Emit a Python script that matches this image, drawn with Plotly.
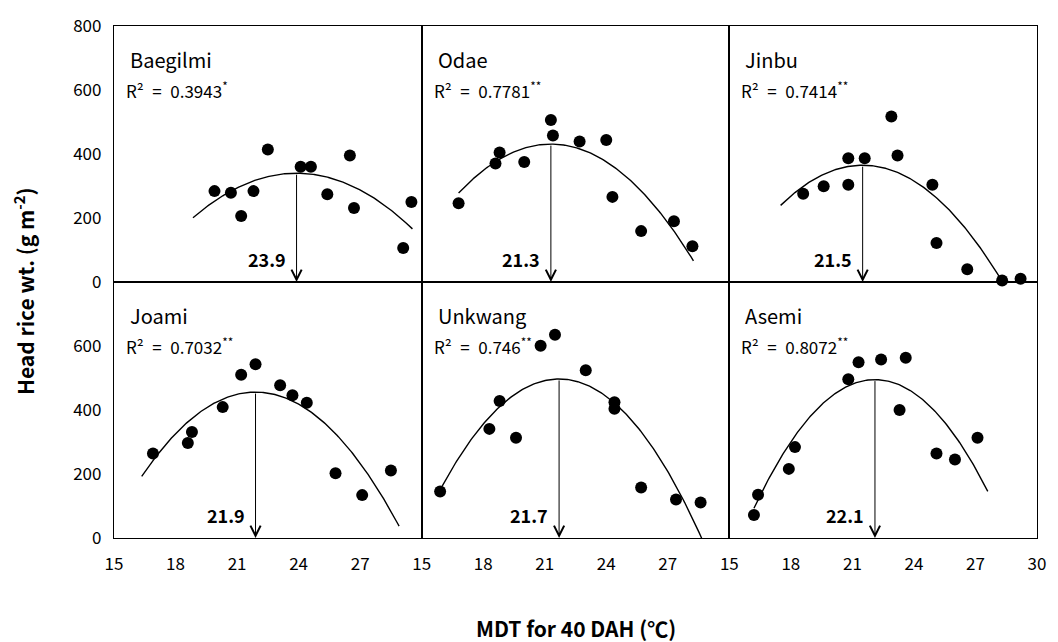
import numpy as np
import plotly.graph_objects as go
from plotly.subplots import make_subplots

FONT = "Noto Sans CJK KR"

# Cultivars, in panel order (row by row)
cultivars = ["Baegilmi", "Odae", "Jinbu", "Joami", "Unkwang", "Asemi"]
r2_values = ["0.3943", "0.7781", "0.7414", "0.7032", "0.746", "0.8072"]
significance = ["*", "**", "**", "**", "**", "**"]

# Mean daily temperature for 40 days after heading (°C) and head rice weight (g m-2)
mdt_baegilmi = [19.9, 20.7, 21.2, 21.8, 22.5, 24.1, 24.6, 25.4, 26.5, 26.7, 29.1, 29.5]
hrw_baegilmi = [284, 279, 206, 284, 414, 360, 360, 274, 395, 231, 106, 250]

mdt_odae = [16.8, 18.6, 18.8, 20.0, 21.3, 21.4, 22.7, 24.0, 24.3, 25.7, 27.3, 28.2]
hrw_odae = [246, 370, 405, 375, 506, 458, 439, 444, 266, 159, 190, 112]

mdt_jinbu = [18.6, 19.6, 20.8, 20.8, 21.6, 22.9, 23.2, 24.9, 25.1, 26.6, 28.3, 29.2]
hrw_jinbu = [276, 299, 304, 387, 387, 517, 395, 304, 122, 40, 5, 10]

mdt_joami = [16.9, 18.6, 18.8, 20.3, 21.2, 21.9, 23.1, 23.7, 24.4, 25.8, 27.1, 28.5]
hrw_joami = [264, 297, 331, 409, 510, 543, 477, 446, 423, 202, 134, 211]

mdt_unkwang = [15.9, 18.3, 18.8, 19.6, 20.8, 21.5, 23.0, 24.4, 24.4, 25.7, 27.4, 28.6]
hrw_unkwang = [145, 341, 428, 313, 601, 635, 524, 424, 404, 158, 120, 111]

mdt_asemi = [16.2, 16.4, 17.9, 18.2, 20.8, 21.3, 22.4, 23.3, 23.6, 25.1, 26.0, 27.1]
hrw_asemi = [72, 135, 216, 284, 496, 549, 558, 400, 563, 264, 245, 313]

mdt_all = [mdt_baegilmi, mdt_odae, mdt_jinbu, mdt_joami, mdt_unkwang, mdt_asemi]
hrw_all = [hrw_baegilmi, hrw_odae, hrw_jinbu, hrw_joami, hrw_unkwang, hrw_asemi]

# Quadratic fits in vertex form: y = peak + curvature * (x - optimum)^2
optimum_mdt = [23.9, 21.3, 21.5, 21.9, 21.7, 22.1]
peak_hrw = [340, 431, 365, 456, 497, 495]
curvature = [-5.45, -7.55, -7.85, -8.55, -10.3, -11.55]
fit_start = [18.85, 16.8, 17.5, 16.35, 16.0, 16.2]
fit_end = [29.55, 28.25, 28.2, 28.9, 28.65, 27.6]

x_ticks_inner = [15, 18, 21, 24, 27]
x_ticks_last = [15, 18, 21, 24, 27, 30]
y_ticks_top = [0, 200, 400, 600, 800]
y_ticks_bottom = [0, 200, 400, 600]

fig = make_subplots(rows=2, cols=3, horizontal_spacing=0, vertical_spacing=0)

annotations = []
for i, name in enumerate(cultivars):
    row, col = i // 3 + 1, i % 3 + 1
    k = "" if i == 0 else str(i + 1)
    xr, yr = "x" + k, "y" + k

    fig.add_trace(go.Scatter(
        x=mdt_all[i], y=hrw_all[i], mode="markers",
        marker=dict(color="black", size=12, line=dict(width=0)),
        showlegend=False, cliponaxis=False,
    ), row=row, col=col)

    xs = np.linspace(fit_start[i], fit_end[i], 200)
    ys = peak_hrw[i] + curvature[i] * (xs - optimum_mdt[i]) ** 2
    fig.add_trace(go.Scatter(
        x=xs, y=ys, mode="lines", line=dict(color="black", width=1.4),
        showlegend=False, hoverinfo="skip",
    ), row=row, col=col)

    # arrow from the fitted maximum down to the axis
    annotations.append(dict(
        x=optimum_mdt[i], y=0, xref=xr, yref=yr,
        ax=optimum_mdt[i], ay=peak_hrw[i], axref=xr, ayref=yr,
        showarrow=True, arrowhead=5, arrowsize=2, arrowwidth=1,
        arrowcolor="black", standoff=0, text="",
    ))
    annotations.append(dict(
        x=optimum_mdt[i], y=0, xref=xr, yref=yr, showarrow=False,
        text=f"{optimum_mdt[i]:.1f}", xanchor="right", yanchor="middle",
        xshift=-9, yshift=23,
        font=dict(family=FONT, size=18, color="black", weight="bold"),
    ))
    annotations.append(dict(
        x=0, y=1, xref=xr + " domain", yref=yr + " domain", showarrow=False,
        text=name, xanchor="left", yanchor="middle", xshift=14, yshift=-33,
        font=dict(family=FONT, size=20, color="black"),
    ))
    annotations.append(dict(
        x=0, y=1, xref=xr + " domain", yref=yr + " domain", showarrow=False,
        text=f"R²\u2002=\u2002{r2_values[i]}<sup>{significance[i]}</sup>",
        xanchor="left", yanchor="middle", xshift=10, yshift=-64,
        font=dict(family=FONT, size=17, color="black"),
    ))

    fig.update_xaxes(
        range=[15, 30], showgrid=False, zeroline=False, showline=True,
        mirror=True, linecolor="black", linewidth=1.3, ticks="",
        tickvals=(x_ticks_last if col == 3 else x_ticks_inner) if row == 2 else [],
        showticklabels=(row == 2), ticklabelstandoff=10,
        ticklabeloverflow="allow",
        tickfont=dict(family=FONT, size=17, color="black"),
        row=row, col=col,
    )
    fig.update_yaxes(
        range=[0, 800], showgrid=False, zeroline=False, showline=True,
        mirror=True, linecolor="black", linewidth=1.3, ticks="",
        tickvals=(y_ticks_top if row == 1 else y_ticks_bottom) if col == 1 else [],
        showticklabels=(col == 1), ticklabelstandoff=8,
        ticklabeloverflow="allow",
        tickfont=dict(family=FONT, size=17, color="black"),
        row=row, col=col,
    )

annotations.append(dict(
    x=0, y=0.5, xref="paper", yref="paper", showarrow=False,
    text="Head rice wt. (g m<sup>-2</sup>)", textangle=-90,
    xanchor="center", yanchor="middle", xshift=-90, yshift=-10,
    font=dict(family=FONT, size=21, color="black", weight="bold"),
))
annotations.append(dict(
    x=0.5, y=0, xref="paper", yref="paper", showarrow=False,
    text="MDT for 40 DAH (℃)", xanchor="center", yanchor="middle",
    yshift=-90,
    font=dict(family=FONT, size=21, color="black", weight="bold"),
))

fig.update_layout(
    width=1058, height=642,
    margin=dict(l=114, r=16, t=12, b=104),
    paper_bgcolor="white", plot_bgcolor="white",
    annotations=annotations,
    font=dict(family=FONT, color="black"),
)

fig.write_html("out.html")
